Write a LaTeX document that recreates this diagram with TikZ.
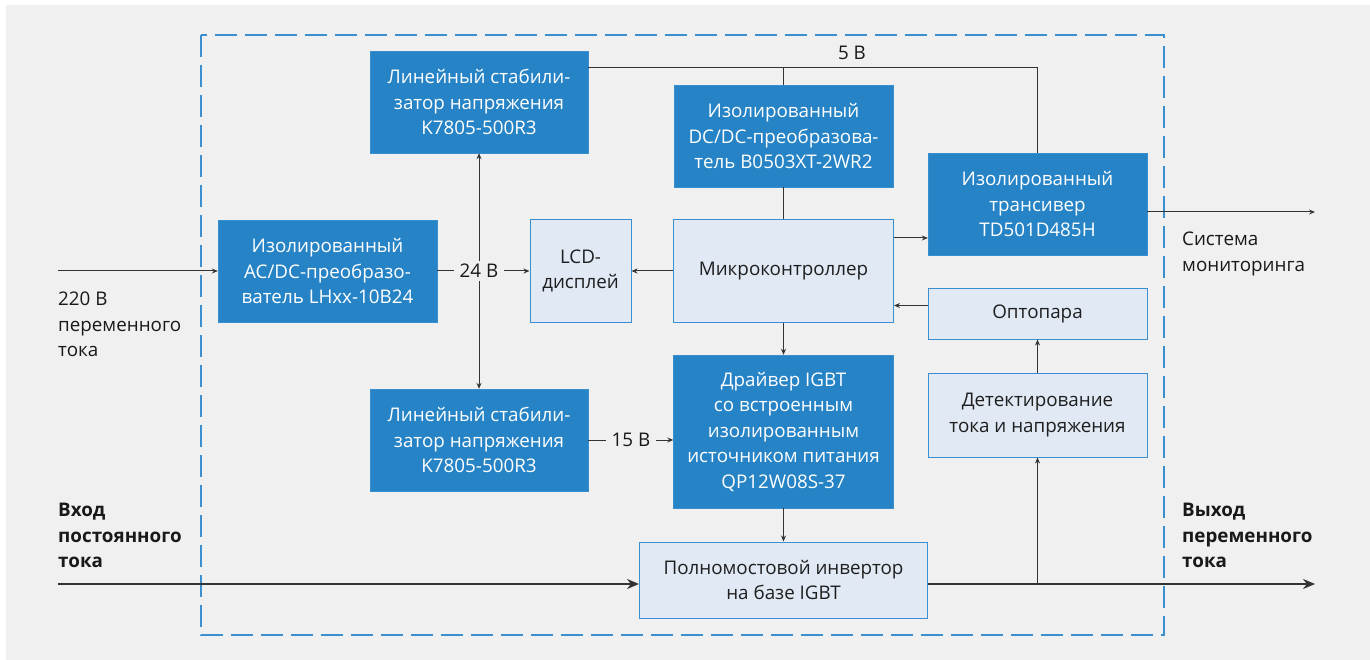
\documentclass[tikz,border=0pt]{standalone}
\usepackage{fontspec}
\setmainfont{Open Sans}
\usepackage{tikz}
\usetikzlibrary{positioning, calc, arrows.meta}
\definecolor{boxblue}{HTML}{2683C6}
\definecolor{paleblue}{HTML}{E1E9F5}
\definecolor{lineblue}{HTML}{3A8FD0}
\definecolor{bggray}{HTML}{F0F0F0}
\definecolor{wirecol}{HTML}{333333}

\begin{document}
\begin{tikzpicture}[
    x=1pt, y=-1pt,
    darkbox/.style={rectangle, draw=lineblue, fill=boxblue, text=white, align=center, inner sep=0pt, font=\fontsize{18.8}{25.5}\selectfont},
    lightbox/.style={rectangle, draw=lineblue, line width=1pt, fill=paleblue, text=black!88, align=center, inner sep=0pt, font=\fontsize{18.8}{25.5}\selectfont},
    frame/.style={draw=lineblue, line width=1.5pt, dash pattern=on 22pt off 8pt},
    wire/.style={draw=wirecol, line width=1pt},
    arrow/.style={wire, -{Stealth[length=6pt,width=5pt]}},
    bigarrow/.style={draw=wirecol, line width=2pt, -{Stealth[length=12pt,width=10pt]}},
    label/.style={text=black!90, align=left, inner sep=0pt, font=\fontsize{18.8}{25.5}\selectfont},
    volt/.style={text=black!90, fill=bggray, inner xsep=6pt, inner ysep=3pt, font=\fontsize{18.8}{25.5}\selectfont}
]

    % background and board outline
    \useasboundingbox (0,0) rectangle (1370,660);
    \fill[bggray] (6,5) rectangle (1370,660);
    \draw[frame] (201,35) rectangle (1164,635);

    % blocks
    \node[darkbox, minimum width=218pt, minimum height=102pt] (stabA) at (479,102) {Линейный стабили-\\затор напряжения\\K7805-500R3};
    \node[darkbox, minimum width=219pt, minimum height=102pt] (dcdc) at (783.5,136) {Изолированный\\DC/DC-преобразова-\\тель B0503XT-2WR2};
    \node[darkbox, minimum width=219pt, minimum height=102pt] (trans) at (1037.5,204) {Изолированный\\трансивер\\TD501D485H};
    \node[darkbox, minimum width=219pt, minimum height=102pt] (acdc) at (327.5,271) {Изолированный\\AC/DC-преобразо-\\ватель LHxx-10B24};
    \node[lightbox, minimum width=101pt, minimum height=102pt] (lcd) at (580.5,271) {LCD-\\дисплей};
    \node[lightbox, minimum width=220pt, minimum height=102pt] (mcu) at (783.5,271) {Микроконтроллер};
    \node[lightbox, minimum width=219pt, minimum height=51pt] (opto) at (1037.5,313.5) {Оптопара};
    \node[lightbox, minimum width=219pt, minimum height=84pt] (detect) at (1037.5,415) {Детектирование\\тока и напряжения};
    \node[darkbox, minimum width=218pt, minimum height=102pt] (stabB) at (479,440) {Линейный стабили-\\затор напряжения\\K7805-500R3};
    \node[darkbox, minimum width=220pt, minimum height=153pt] (driver) at (783.5,431.5) {Драйвер IGBT\\со встроенным\\изолированным\\источником питания\\QP12W08S-37};
    \node[lightbox, minimum width=288pt, minimum height=76pt] (inv) at (783.5,580) {Полномостовой инвертор\\на базе IGBT};

    % outside labels
    \node[label, anchor=north west] (lbl220) at (58,292) {220 В\\переменного\\тока};
    \node[label, anchor=north west] (lblmon) at (1182,232) {Система\\мониторинга};
    \node[label, anchor=north west, font=\fontsize{18.8}{25.5}\selectfont\bfseries] (lbldcin) at (58,503) {Вход\\постоянного\\тока};
    \node[label, anchor=north west, font=\fontsize{18.8}{25.5}\selectfont\bfseries] (lblacout) at (1182,503) {Выход\\переменного\\тока};

    % free ends
    \coordinate (in220) at (58,271);
    \coordinate (v5) at (1037.5,68);
    \coordinate (mon) at (1315,212);
    \coordinate (dcin) at (58,584);
    \coordinate (acout) at (1315,584);

    % 5 V rail
    \node[volt, fill=none] (lbl5) at (852,53) {5 В};
    \draw[wire] (stabA.east |- v5) -- (v5) -- (trans.north);
    \draw[wire] (dcdc.north |- v5) -- (dcdc.north);
    \draw[wire] (dcdc.south) -- (mcu.north);

    % 24 V
    \draw[arrow] (in220) -- (acdc.west);
    \node[volt] (v24) at (479,271) {24 В};
    \draw[wire] (acdc.east) -- (v24.west);
    \draw[arrow] (v24.east) -- (lcd.west);
    \draw[arrow] (v24.north) -- (stabA.south);
    \draw[arrow] (v24.south) -- (stabB.north);

    % 15 V
    \node[volt] (v15) at (631,440) {15 В};
    \draw[wire] (stabB.east) -- (v15.west);
    \draw[arrow] (v15.east) -- (v15.east -| driver.west);

    % controller links
    \draw[arrow] (mcu.west) -- (lcd.east);
    \draw[arrow] ([yshift=33pt]mcu.east) -- ([yshift=33pt]mcu.east -| trans.west);
    \draw[arrow] ([yshift=8pt]opto.west) -- ([yshift=8pt]opto.west -| mcu.east);
    \draw[arrow] (trans.east |- mon) -- (mon);
    \draw[arrow] (mcu.south) -- (driver.north);
    \draw[arrow] (driver.south) -- (inv.north);
    \draw[arrow] (detect.north) -- (opto.south);

    % power path
    \draw[bigarrow] (dcin) -- (dcin -| inv.west);
    \draw[bigarrow] (inv.east |- acout) -- (acout);
    \draw[arrow] (detect.south |- acout) -- (detect.south);

\end{tikzpicture}
\end{document}
